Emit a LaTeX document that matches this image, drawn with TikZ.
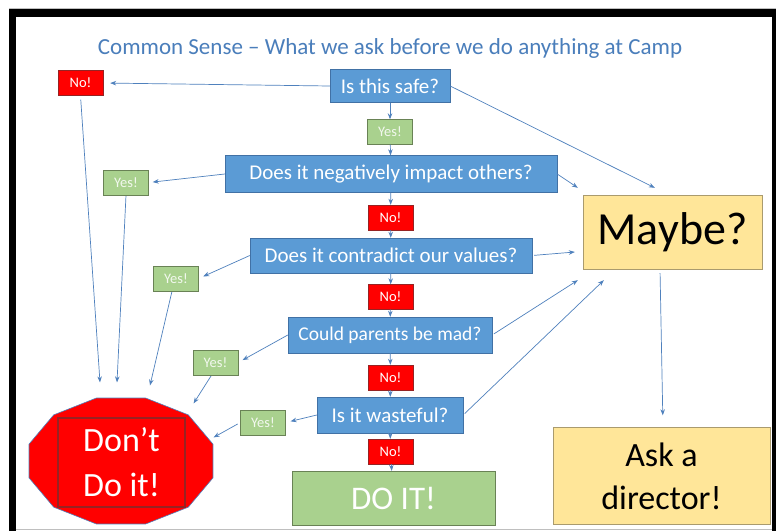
\documentclass[tikz,border=0pt]{standalone}
\usepackage{fontspec}
\setmainfont{Carlito}
\usetikzlibrary{arrows.meta}

\definecolor{arrowblue}{RGB}{79,129,189}
\definecolor{titleblue}{RGB}{74,126,187}
\definecolor{boxblue}{RGB}{91,155,213}
\definecolor{boxblueedge}{RGB}{65,113,165}
\definecolor{yesgreen}{RGB}{169,209,142}
\definecolor{yesedge}{RGB}{105,130,85}
\definecolor{nored}{RGB}{255,0,0}
\definecolor{noedge}{RGB}{150,35,35}
\definecolor{maybeyellow}{RGB}{255,230,153}
\definecolor{maybeedge}{RGB}{170,155,110}

\tikzset{
  qbox/.style={draw=boxblueedge, fill=boxblue, text=white, inner sep=0pt, font=\fontsize{21}{25}\selectfont},
  nobox/.style={draw=noedge, fill=nored, text=white, inner sep=0pt, minimum width=45pt, minimum height=25pt, font=\fontsize{14.5}{16}\selectfont},
  yesbox/.style={draw=yesedge, fill=yesgreen, text=white!85!yesgreen, inner sep=0pt, minimum width=45pt, minimum height=25pt, font=\fontsize{14.5}{16}\selectfont},
  maybebox/.style={draw=maybeedge, fill=maybeyellow, text=black, inner sep=0pt, align=center},
  link/.style={->, draw=arrowblue, line width=0.7pt}
}

\begin{document}
\begin{tikzpicture}[x=1pt, y=-1pt, >={Stealth[length=6pt,width=4.5pt]}]
  \useasboundingbox (0,0) rectangle (776,531);
  % 1. frame of the slide
  \fill[white] (0,0) rectangle (776,531);
  \draw[gray!50] (9,8) -- (776,8);
  \draw[gray!50] (16,529) -- (772,529);
  \fill[black] (9,9) rectangle (776,17);
  \fill[black] (9,9) rectangle (16,531);
  \fill[black] (772,9) rectangle (776,531);

  % 2. title
  \node[text=titleblue, font=\fontsize{23}{27}\selectfont] (title) at (390,48) {Common Sense – What we ask before we do anything at Camp};

  % 3. the questions down the middle
  \node[qbox, minimum width=120pt, minimum height=33pt] (safe) at (390,86) {Is this safe?};
  \node[yesbox] (yes1) at (390,132) {Yes!};
  \node[qbox, minimum width=332pt, minimum height=37pt] (impact) at (391,174) {Does it negatively impact others?};
  \node[nobox] (no2) at (390.5,217.5) {No!};
  \node[qbox, minimum width=282pt, minimum height=35pt] (values) at (391,255.5) {Does it contradict our values?};
  \node[nobox] (no3) at (390.5,297) {No!};
  \node[qbox, minimum width=204pt, minimum height=36pt, font=\fontsize{19.5}{24}\selectfont] (parents) at (390,335) {Could parents be mad?};
  \node[nobox] (no4) at (390.5,377.5) {No!};
  \node[qbox, minimum width=146pt, minimum height=36pt] (wasteful) at (390,415) {Is it wasteful?};
  \node[nobox] (no5) at (390.5,451.5) {No!};
  \node[draw=yesedge, fill=yesgreen, text=white, minimum width=203pt, minimum height=54pt, inner sep=0pt, font=\fontsize{33}{38}\selectfont] (doit) at (393.5,498) {DO IT!};

  % 4. answers off to the left
  \node[nobox] (no0) at (80.5,83) {No!};
  \node[yesbox] (yes2) at (126,182.5) {Yes!};
  \node[yesbox] (yes3) at (176,278.5) {Yes!};
  \node[yesbox] (yes4) at (215.5,362.5) {Yes!};
  \node[yesbox] (yes5) at (263,422.5) {Yes!};

  % 5. stop sign
  \begin{scope}[shift={(121,461)}]
    \draw[fill=nored, draw=arrowblue, line width=0.6pt] (15:95.2pt and 65.2pt)
      \foreach \a in {45,75,...,345} { -- (\a:95.2pt and 65.2pt) } -- cycle;
  \end{scope}
  \node[draw=noedge, fill=nored, text=white, line width=1.2pt, minimum width=127pt, minimum height=89pt, inner sep=0pt, align=center, font=\fontsize{34}{45}\selectfont] (stop) at (121.5,462.5) {Don’t\\Do it!};

  % 6. maybe / ask
  \node[maybebox, minimum width=179pt, minimum height=74pt, font=\fontsize{46}{50}\selectfont] (maybe) at (672.5,232) {Maybe?};
  \node[maybebox, minimum width=217pt, minimum height=97pt, font=\fontsize{34}{43}\selectfont] (ask) at (661.5,476) {Ask a\\director!};

  % 7. connectors
  \draw[link] (safe) -- (yes1);
  \draw[link] (yes1) -- (impact);
  \draw[link] (impact) -- (no2);
  \draw[link] (no2) -- (values);
  \draw[link] (values) -- (no3);
  \draw[link] (no3) -- (parents);
  \draw[link] (parents) -- (no4);
  \draw[link] (no4) -- (wasteful);
  \draw[link] (wasteful) -- (no5);
  \draw[link] (no5) -- (doit);

  \draw[link, shorten >=7pt] (safe.west) -- (no0.east);
  \draw[link, shorten >=4pt] (impact.west) -- (yes2.east);
  \draw[link, shorten >=5pt] (values.west) -- (yes3.east);
  \draw[link, shorten >=5pt] (parents.west) -- (yes4.east);
  \draw[link, shorten >=5pt] (wasteful.west) -- (yes5.east);

  \draw[link] (safe.east) -- ([shift={(72,-7)}]maybe.north west);
  \draw[link] (impact.east) -- ([shift={(-5,-7)}]maybe.north west);
  \draw[link, shorten <=2pt] (values.east) -- ([shift={(-8,20)}]maybe.west);
  \draw[link, shorten <=2pt] (parents.east) -- ([shift={(-5,11)}]maybe.south west);
  \draw[link, shorten <=2pt] (wasteful.east) -- ([shift={(21,11)}]maybe.south west);
  \draw[link, shorten <=4pt, shorten >=12pt] ([xshift=-12.5pt]maybe.south) -- ([xshift=1.5pt]ask.north);

  \draw[link, shorten <=4pt] (no0.south) -- ([shift={(-21.5,-35)}]stop.north);
  \draw[link, shorten <=1pt] (yes2.south) -- ([shift={(-4.5,-35)}]stop.north);
  \draw[link, shorten <=1pt] ([xshift=-4pt]yes3.south) -- ([shift={(28.5,-32)}]stop.north);
  \draw[link, shorten <=1pt] ([xshift=-4pt]yes4.south) -- ([shift={(8,-14)}]stop.north east);
  \draw[link, shorten <=3pt] (yes5.west) -- ([shift={(28,20)}]stop.north east);
\end{tikzpicture}
\end{document}
